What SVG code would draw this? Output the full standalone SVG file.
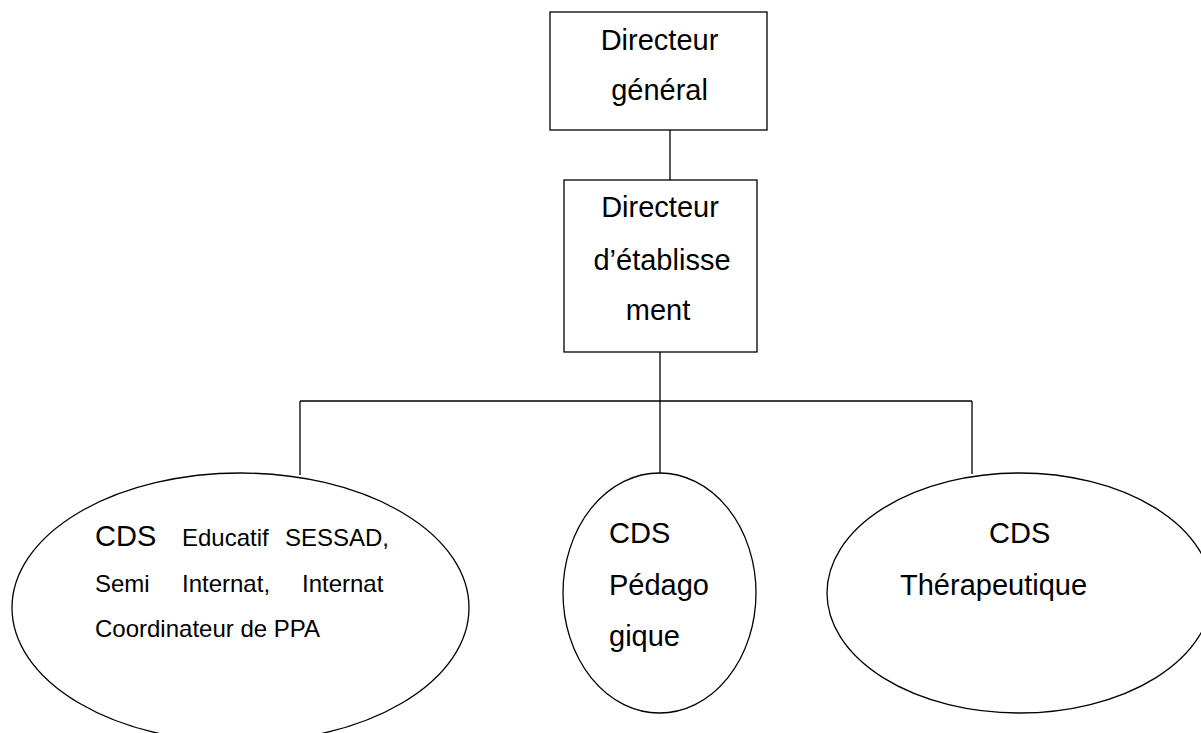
<svg xmlns="http://www.w3.org/2000/svg" width="1201" height="733" viewBox="0 0 1201 733">
<style>
.shape{fill:#fff;stroke:#000;stroke-width:1.3}
.conn line{stroke:#000;stroke-width:1.3}
text{font-family:"Liberation Sans",Arial,sans-serif;fill:#000}
.big{font-size:29px}
.small{font-size:24px}
.c{text-anchor:middle}
</style>
<rect width="1201" height="733" fill="#fff"/>
<g id="connectors" class="conn">
<line x1="670" y1="130" x2="670" y2="180"/>
<line x1="660" y1="352" x2="660" y2="401"/>
<line x1="300" y1="401" x2="972" y2="401"/>
<line x1="300" y1="401" x2="300" y2="475"/>
<line x1="660" y1="401" x2="660" y2="473"/>
<line x1="972" y1="401" x2="972" y2="474"/>
</g>
<g id="directeur-general">
<rect class="shape" x="550" y="12" width="217" height="118"/>
<text class="big c" x="659.5" y="50">Directeur</text>
<text class="big c" x="659.5" y="100">général</text>
</g>
<g id="directeur-etablissement">
<rect class="shape" x="564" y="180" width="193" height="172"/>
<text class="big c" x="660" y="217">Directeur</text>
<text class="big c" x="662" y="270">d’établisse</text>
<text class="big c" x="658" y="320">ment</text>
</g>
<g id="cds-educatif">
<ellipse class="shape" cx="240.5" cy="607.7" rx="228.5" ry="134.7"/>
<text class="big" x="95" y="546">CDS</text>
<text class="small" x="182" y="546">Educatif</text>
<text class="small" x="285" y="546">SESSAD,</text>
<text class="small" x="95" y="592">Semi</text>
<text class="small" x="182" y="592">Internat,</text>
<text class="small" x="302" y="592">Internat</text>
<text class="small" x="95" y="637">Coordinateur de PPA</text>
</g>
<g id="cds-pedagogique">
<ellipse class="shape" cx="659.5" cy="593" rx="96.5" ry="120"/>
<text class="big" x="609" y="543">CDS</text>
<text class="big" x="609" y="595">Pédago</text>
<text class="big" x="609" y="646">gique</text>
</g>
<g id="cds-therapeutique">
<ellipse class="shape" cx="1019.5" cy="593" rx="192.5" ry="120"/>
<text class="big" x="989" y="543">CDS</text>
<text class="big" x="900" y="595">Thérapeutique</text>
</g>
</svg>
